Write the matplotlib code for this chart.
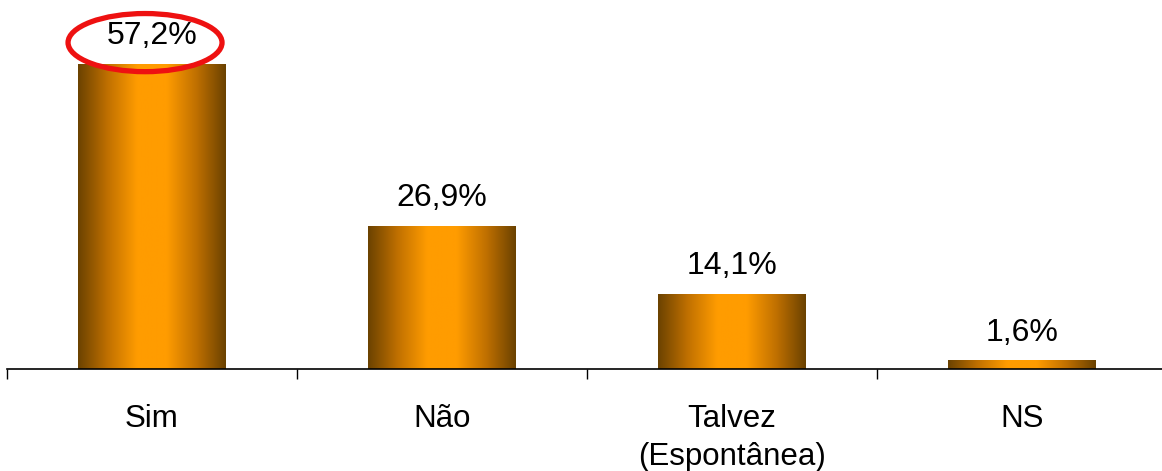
import matplotlib.pyplot as plt
import numpy as np
from matplotlib.patches import Ellipse
from matplotlib.colors import LinearSegmentedColormap

categories = ['Sim', 'Não', 'Talvez\n(Espontânea)', 'NS']
values = [57.2, 26.9, 14.1, 1.6]
labels = ['57,2%', '26,9%', '14,1%', '1,6%']

plt.rcParams['font.family'] = ['Liberation Sans', 'DejaVu Sans']

fig = plt.figure(figsize=(11.62, 4.71), dpi=100)
ax = fig.add_axes([7/1162, 102/471, 1160/1162, 320/471])

x = np.arange(len(categories))
width = 0.507
bars = ax.bar(x, values, width=width, color='none', edgecolor='none')

# horizontal gradient: dark brown edges, bright orange center
cmap = LinearSegmentedColormap.from_list('bar', ['#6b4200', '#c07000', '#ff9c00', '#ff9c00', '#c07000', '#6b4200'])
grad = np.linspace(0, 1, 256).reshape(1, -1)
for bar in bars:
    x0, y0 = bar.get_x(), bar.get_y()
    w, h = bar.get_width(), bar.get_height()
    im = ax.imshow(grad, extent=[x0, x0 + w, y0, y0 + h], aspect='auto', cmap=cmap, zorder=2)
    im.set_clip_path(bar)

for xi, v, lab in zip(x, values, labels):
    ax.annotate(lab, (xi, v), xytext=(0, 9), textcoords='offset points',
                ha='center', va='bottom', fontsize=23)

# highlight on the first value
ax.add_patch(Ellipse((-0.024, 61.2), 0.531, 10.9, fill=False, edgecolor='#ee1111',
                     linewidth=3.8, clip_on=False, zorder=5))

ax.set_xlim(-0.5, len(categories) - 0.5)
ax.set_ylim(0, 60)
ax.set_xticks(x)
ax.set_xticklabels(categories, fontsize=22.5, linespacing=1.35)
ax.set_xticks(np.arange(-0.5, len(categories), 1), minor=True)
ax.tick_params(axis='x', which='major', length=0, pad=25)
ax.tick_params(axis='x', which='minor', length=7.5, width=1, direction='out')
ax.set_yticks([])
for s in ['top', 'right', 'left']:
    ax.spines[s].set_visible(False)
ax.spines['bottom'].set_linewidth(1.2)

plt.savefig('out.png', dpi=100)
